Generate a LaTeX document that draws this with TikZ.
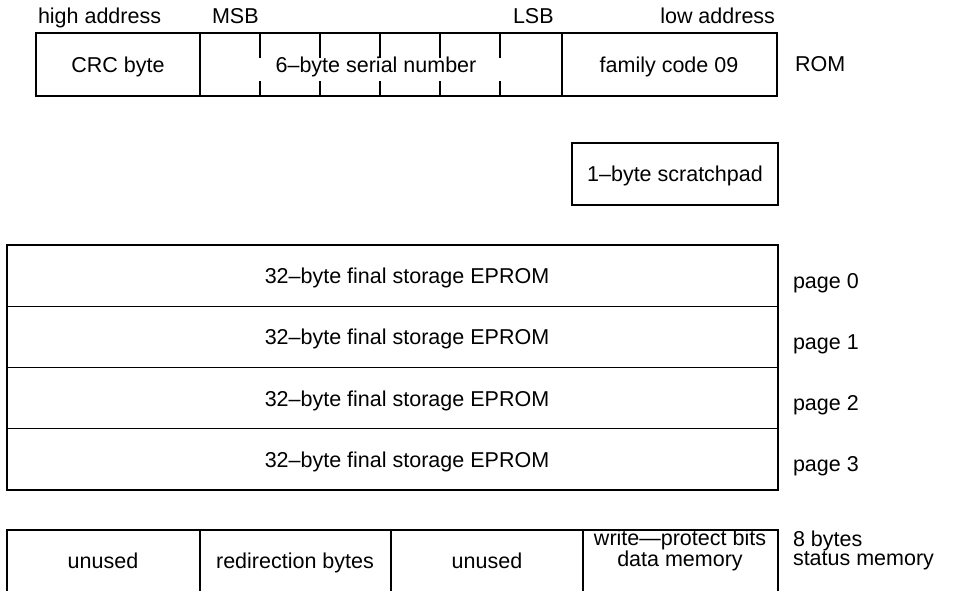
\documentclass[tikz,border=0pt]{standalone}
\usepackage{fontspec}
\setmainfont{Liberation Sans}
\begin{document}
\begin{tikzpicture}[x=1pt,y=-1pt,
  ln/.style={line width=1.4pt, line cap=rect},
  cell/.style={draw, line width=1.4pt, inner sep=0pt, outer sep=0pt},
  txt/.style={inner sep=0pt, outer sep=0pt, font=\fontsize{21.5}{18}\selectfont}]
\useasboundingbox (0,0) rectangle (953,590);

% top labels
\node[txt, anchor=base west] (hi) at (38,23) {high address};
\node[txt, anchor=base west] (msb) at (212,23) {MSB};
\node[txt, anchor=base west] (lsb) at (513,23) {LSB};
\node[txt, anchor=base east] (lo) at (775,23) {low address};

% ROM row
\node[cell, minimum width=164pt, minimum height=63pt] (crc) at (118,64.5) {};
\node[cell, minimum width=362pt, minimum height=63pt] (ser) at (381,64.5) {};
\node[cell, minimum width=215pt, minimum height=63pt] (fam) at (669.5,64.5) {};
\node[txt, anchor=base] (crct) at (118,72) {CRC byte};
\node[txt, anchor=base] (sert) at (376,72) {6–byte serial number};
\node[txt, anchor=base] (famt) at (669,72) {family code 09};
\node[txt, anchor=base west] (rom) at (795,71) {ROM};
\foreach \x in {260,320,380,440,500}{
  \draw[line width=1.4pt] (\x,33) -- (\x,58);
  \draw[line width=1.4pt] (\x,81) -- (\x,96);
}

% scratchpad
\node[cell, minimum width=206pt, minimum height=62pt] (scr) at (675,174) {};
\node[txt, anchor=base] (scrt) at (675,181) {1–byte scratchpad};

% EPROM pages
\foreach \i in {0,1,2,3}{
  \pgfmathsetmacro{\yc}{275.6+61.25*\i}
  \node[cell, minimum width=771pt, minimum height=61.25pt] (pg\i) at (392.5,\yc) {};
  \node[txt, anchor=base] (pgt\i) at (407,\yc+8) {32–byte final storage EPROM};
  \node[txt, anchor=base west] (pgl\i) at (793,\yc+12.5) {page \i};
}

% status memory row (cut off at the bottom)
\draw[ln] (7,595) -- (7,530) -- (778,530) -- (778,595);
\draw[ln] (200,530) -- (200,595);
\draw[ln] (391,530) -- (391,595);
\draw[ln] (583,530) -- (583,595);
\node[txt, anchor=base] (u1) at (103,568) {unused};
\node[txt, anchor=base] (rd) at (295,568) {redirection bytes};
\node[txt, anchor=base] (u2) at (487,568) {unused};
\node[txt, anchor=center, align=center] (wp) at (680,550.5) {write—protect bits\\data memory};
\node[txt, anchor=west, align=left] (sm) at (793,550.5) {8 bytes\\status memory};
\end{tikzpicture}
\end{document}
